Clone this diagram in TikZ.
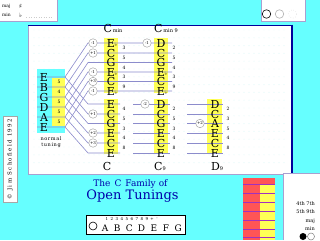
\documentclass[tikz,border=0pt]{standalone}
\usepackage{fontspec}
\setmainfont{DejaVu Serif}
\newfontfamily\symf{DejaVu Sans}
\definecolor{bgc}{HTML}{66FFFF}
\definecolor{yel}{HTML}{FFFF55}
\definecolor{strc}{HTML}{8C8CCC}
\definecolor{navy}{HTML}{000099}
\definecolor{edgec}{HTML}{A8A0D0}
\definecolor{dotc}{HTML}{D0F6F6}
\definecolor{titc}{HTML}{0000AA}
\definecolor{redc}{HTML}{FF5555}
\definecolor{purc}{HTML}{A030C0}
\newcommand\fl{\rlap{\kern-0.5pt\symf\fontsize{5}{5}\selectfont\raisebox{1pt}{♭}}}
\tikzset{
 str/.style={strc, line width=0.6pt},
 let/.style={inner sep=0pt, font=\fontsize{11}{11}\selectfont},
 num/.style={inner sep=0pt, font=\fontsize{4.5}{4.5}\selectfont},
 chg/.style={circle, draw=gray!80, fill=white, inner sep=0pt, minimum size=8.5pt, font=\fontsize{4}{4}\selectfont},
 tiny/.style={inner sep=0pt, font=\fontsize{4.5}{4.5}\selectfont},
}
\begin{document}
\begin{tikzpicture}[x=1pt,y=-1pt]
\useasboundingbox (0,0) rectangle (320,240);
\fill[bgc] (0,0) rectangle (320,240);
% main panel
\fill[white] (28,25) rectangle (292,174);
\foreach \yy in {30,37.8,...,170} \foreach \xx in {34,39,...,288} \fill[dotc] (\xx,\yy) circle (0.45);
\draw[edgec, line width=0.8pt] (28,25) -- (28,174) -- (292,174);
\draw[navy, line width=0.8pt] (28,25) -- (292,25);
\draw[navy, line width=1.6pt] (292,24.6) -- (292,174.8);
% normal tuning box
\fill[bgc] (37,69) rectangle (65,133);
\fill[yel] (52,78) rectangle (65,126);
% column boxes
\fill[yel] (104,38) rectangle (118,93);
\fill[yel] (154,38) rectangle (168,93);
\fill[yel] (104,99) rectangle (118,154);
\fill[yel] (154,99) rectangle (168,154);
\fill[yel] (207,99) rectangle (222,154);
% coordinates
\foreach \i/\s in {1/77,2/87,3/97,4/107,5/117,6/127} {
  \coordinate (ns\i) at (37,\s); \coordinate (ne\i) at (65,\s);}
\foreach \i/\t in {1/43,2/53,3/62.5,4/72,5/81.5,6/91} {
  \coordinate (ta\i) at (88,\t); \coordinate (tb\i) at (172,\t);}
\foreach \i/\t in {1/104,2/114,3/123.5,4/133,5/143,6/153} {
  \coordinate (ba\i) at (88,\t); \coordinate (bb\i) at (120,\t);
  \coordinate (bc\i) at (133,\t); \coordinate (bd\i) at (170,\t);
  \coordinate (be\i) at (187,\t); \coordinate (bf\i) at (223,\t);}
% strings
\foreach \i in {1,...,6} {
  \draw[str] (ns\i) -- (ne\i) -- (ta\i) -- (tb\i);
  \draw[str] (ne\i) -- (ba\i) -- (bb\i);
  \draw[str] (bc\i) -- (bd\i);
  \draw[str] (be\i) -- (bf\i);}
% normal tuning letters
\foreach \i/\l/\s in {1/E/77,2/B/87,3/G/97,4/D/107,5/A/117,6/E/127}
  \node[let] (nl\i) at (44,\s) {\l};
\foreach \i/\n/\s in {1/5/82,2/4/92,3/5/102,4/5/112,5/5/122}
  \node[num] (nn\i) at (59,\s) {\n};
\node[tiny, align=center, font=\fontsize{5}{5.5}\selectfont\addfontfeature{LetterSpace=12}] (ntune) at (51,142) {normal\\tuning};
% columns top
\foreach \i/\l/\t in {1/E\fl/43,2/C/53,3/G/62.5,4/E\fl/72,5/C/81.5,6/E\fl/91}
  \node[let] (cm\i) at (111,\t) {\l};
\foreach \i/\l/\t in {1/D/43,2/C/53,3/G/62.5,4/E\fl/72,5/C/81.5,6/E\fl/91}
  \node[let] (cn\i) at (161,\t) {\l};
\foreach \i/\n/\t in {1/3/48,2/5/58,3/4/67.5,4/3/77,5/9/86.5}
  \node[num] (cmn\i) at (124,\t) {\n};
\foreach \i/\n/\t in {1/2/48,2/5/58,3/4/67.5,4/3/77,5/9/86.5}
  \node[num] (cnn\i) at (174,\t) {\n};
% columns bottom
\foreach \i/\l/\t in {1/E/104,2/C/114,3/G/123.5,4/E/133,5/C/143,6/E/153}
  \node[let] (cc\i) at (111,\t) {\l};
\foreach \i/\l/\t in {1/D/104,2/C/114,3/G/123.5,4/E/133,5/C/143,6/E/153}
  \node[let] (cd\i) at (161,\t) {\l};
\foreach \i/\l/\t in {1/D/104,2/C/114,3/A/123.5,4/E/133,5/C/143,6/E/153}
  \node[let] (ce\i) at (215,\t) {\l};
\foreach \i/\n/\t in {1/4/109,2/5/119,3/3/128.5,4/4/138,5/8/148}
  \node[num] (ccn\i) at (124,\t) {\n};
\foreach \i/\n/\t in {1/2/109,2/5/119,3/3/128.5,4/4/138,5/8/148}
  \node[num] (cdn\i) at (174,\t) {\n};
\foreach \i/\n/\t in {1/2/109,2/3/119,3/5/128.5,4/4/138,5/8/148}
  \node[num] (cen\i) at (228,\t) {\n};
% change circles
\foreach \i/\v/\t in {1/-1/43,2/+1/53,4/-1/72,5/+3/81.5,6/-1/91}
  \node[chg] (k\i) at (93,\t) {\v};
\foreach \i/\v/\t in {2/+1/114,4/+2/133,5/+3/143}
  \node[chg] (kb\i) at (93,\t) {\v};
\node[chg] (kc) at (147,43) {-1};
\node[chg] (kd) at (145,104) {-2};
\node[chg] (ke) at (200,123.5) {+2};
% labels
\node[let, anchor=base] (lcmin) at (113,33) {C{\fontsize{5}{5}\selectfont\,min}};
\node[let, anchor=base] (lcmin9) at (166,33) {C{\fontsize{5}{5}\selectfont\,min 9}};
\node[let, anchor=base] (lc) at (107,170.5) {C};
\node[let, anchor=base] (lc9) at (160,170.5) {C{\fontsize{5}{5}\selectfont 9}};
\node[let, anchor=base] (ld9) at (217,170.5) {D{\fontsize{5}{5}\selectfont 9}};
% title
\node[inner sep=0pt, text=titc, font=\fontsize{9}{9}\selectfont] (t1) at (130.5,184) {The\hspace{4pt}C\hspace{4pt}Family\hspace{3pt}of};
\node[inner sep=0pt, text=titc, font=\fontsize{13}{13}\selectfont] (t2) at (132.5,196) {Open Tunings};
% bottom note box
\draw[fill=white, draw=black, line width=0.6pt] (86,215) rectangle (185,234);
\node[circle, draw=black, line width=0.6pt, minimum size=8pt, inner sep=0pt] (oc) at (93,226) {};
\foreach \k/\n in {0/1,1/2,2/3,3/4,4/5,5/6,6/7,7/8,8/9,9/+,10/-}
  \node[tiny, font=\fontsize{4}{4}\selectfont] (bn\k) at (107+5*\k,219) {\n};
\foreach \k/\n in {0/A,1/B,2/C,3/D,4/E,5/F,6/G}
  \node[inner sep=0pt, font=\fontsize{9}{9}\selectfont] (bl\k) at (105+12.2*\k,228) {\n};
% top-left box
\fill[white] (0,0) rectangle (57,21);
\draw[edgec, line width=0.8pt] (57,0) -- (57,21) -- (0,21);
\node[tiny, anchor=west] (maj) at (2,6) {maj};
\node[tiny, anchor=west, font=\symf\fontsize{6}{6}\selectfont] (sh) at (19,6) {♯};
\node[tiny, anchor=west] (min) at (2,15) {min};
\node[tiny, anchor=west, font=\symf\fontsize{6}{6}\selectfont] (fl) at (19,15) {♭};
\draw[gray!40, line width=0.5pt, dotted] (26,17) -- (52,17);
% top-right box
\fill[white] (261,0) rectangle (305,21.5);
\draw[edgec, line width=0.8pt] (261,0) -- (261,21.5) -- (305,21.5) -- (305,0);
\node[circle, draw=black, line width=0.6pt, minimum size=8.5pt, inner sep=0pt] (c1) at (266.5,14) {};
\node[circle, draw=gray!60, line width=0.6pt, minimum size=8.5pt, inner sep=0pt] (c2) at (279.5,14) {};
\node[circle, draw=gray!25, dotted, line width=0.5pt, minimum size=8.5pt, inner sep=0pt] (c3) at (292.5,14) {};
% copyright
\fill[white] (3,116) rectangle (17,202);
\draw[gray!70, line width=0.6pt] (3,116) rectangle (17,202);
\node[rotate=90, inner sep=0pt, font=\fontsize{5.5}{5.5}\selectfont\addfontfeature{LetterSpace=25}] (cp) at (10,159) {© Jim Schofield 1992};
% red/yellow widget
\fill[redc] (243,178) rectangle (275,240);
\fill[yel] (260,185) rectangle (275,240);
\foreach \yy in {184.5,193,202,211,220,229,237.5}
  \draw[purc, line width=0.6pt] (243,\yy) -- (275,\yy);
% right key box
\fill[white] (283,173) rectangle (320,240);
\draw[edgec, line width=0.6pt] (283,240) -- (283,173) -- (320,173);
\node[tiny, anchor=east, font=\fontsize{5}{5}\selectfont] (k47) at (315,204) {4th 7th};
\node[tiny, anchor=east, font=\fontsize{5}{5}\selectfont] (k59) at (315,212) {5th 9th};
\node[tiny, anchor=east, font=\fontsize{5}{5}\selectfont] (kmaj) at (315,221) {maj};
\node[tiny, anchor=east, font=\fontsize{5}{5}\selectfont] (kmin) at (315,229) {min};
\fill[black] (303,236.5) circle (3.5);
\draw[gray, fill=white, line width=0.5pt] (311,236.5) circle (3.5);
\end{tikzpicture}
\end{document}
